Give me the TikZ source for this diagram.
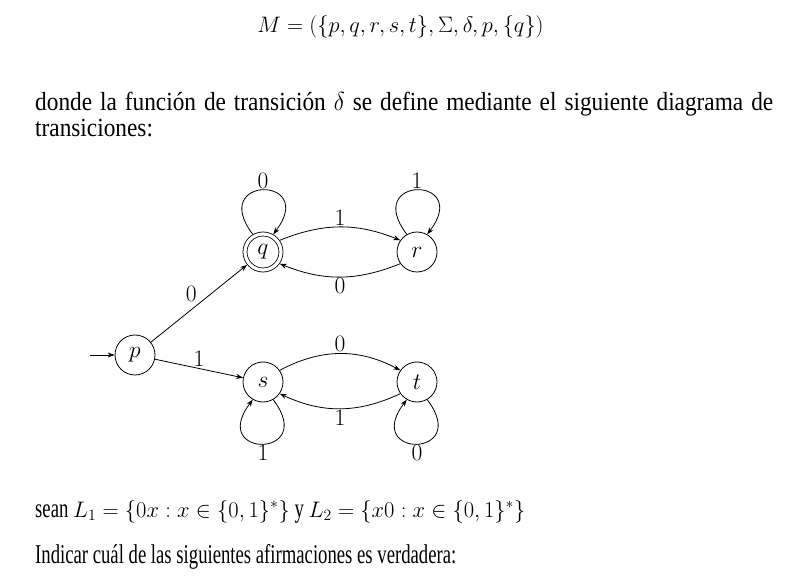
\RequirePackage{fix-cm}
\documentclass[tikz,border=0pt]{standalone}
\usepackage{fontspec}
\setmainfont{Liberation Serif}
\usetikzlibrary{arrows.meta}
\newcommand\vstr[2]{\scalebox{1}[#1]{#2}}
\begin{document}
\begin{tikzpicture}[x=1pt,y=-1pt,
  state/.style={circle,draw,line width=0.8pt,minimum size=40pt,inner sep=0pt,font=\fontsize{23.5}{27}\selectfont},
  acc/.style={circle,draw,line width=0.8pt,minimum size=36pt,inner sep=0pt,double,double distance=3.2pt,outer sep=2.4pt,font=\fontsize{23.5}{27}\selectfont},
  tr/.style={line width=0.8pt,-{Stealth[length=7pt,width=5pt]}},
  lbl/.style={font=\fontsize{23.5}{27}\selectfont,inner sep=1.5pt},
  ptxt/.style={font=\fontsize{23.3}{27}\selectfont,inner sep=0pt},
  btxt/.style={font=\fontsize{18.7}{22}\selectfont,inner sep=0pt}]
\useasboundingbox (0,0) rectangle (785,588);
\node[inner sep=0pt,font=\fontsize{22.4}{27}\selectfont,anchor=base] (title) at (400.5,33) {$M=(\{p,q,r,s,t\},\Sigma,\delta,p,\{q\})$};
\node[ptxt,anchor=base west] (line1) at (35,111)
  {\vstr{1.12}{\makebox[738pt][s]{donde la función de transición $\delta$ se define mediante el siguiente diagrama de}}};
\node[ptxt,anchor=base west] (line2) at (35,137) {\vstr{1.12}{transiciones:}};
\node[state] (p) at (135,355) {$p$};
\node[acc] (q) at (263,252) {$q$};
\node[state] (r) at (417,252) {$r$};
\node[state] (s) at (263,382) {$s$};
\node[state] (t) at (417,382) {$t$};
\coordinate (init) at (90,355);
\draw[tr] (init) -- (p);
\draw[tr] (p) -- node[lbl,above left,pos=0.5,inner sep=2pt] {$0$} (q);
\draw[tr] (p) -- node[lbl,above,pos=0.5,inner sep=2pt] {$1$} (s);
\draw[tr] (q.35) to[out=22,in=158] node[lbl,above] {$1$} (r.145);
\draw[tr] (r.215) to[out=202,in=-22] node[lbl,below] {$0$} (q.325);
\draw[tr] (s.35) to[out=28,in=152] node[lbl,above] {$0$} (t.145);
\draw[tr] (t.215) to[out=205,in=-25] node[lbl,below] {$1$} (s.325);
\draw[tr] (q.120) .. controls +(-45,-59) and +(45,-59) .. node[lbl,above] {$0$} (q.60);
\draw[tr] (r.120) .. controls +(-45,-59) and +(45,-59) .. node[lbl,above] {$1$} (r.60);
\draw[tr] (s.300) .. controls +(45,59) and +(-45,59) .. node[lbl,below] {$1$} (s.240);
\draw[tr] (t.300) .. controls +(45,59) and +(-45,59) .. node[lbl,below] {$0$} (t.240);
\node[btxt,anchor=base west] (sean) at (35,517)
  {\vstr{1.45}{sean} {\fontsize{22.5}{26}\selectfont$L_1=\{0x:x\in\{0,1\}^*\}$} \vstr{1.45}{y} {\fontsize{22.5}{26}\selectfont$L_2=\{x0:x\in\{0,1\}^*\}$}};
\node[btxt,anchor=base west] (ind) at (35,563) {\vstr{1.45}{Indicar cuál de las siguientes afirmaciones es verdadera:}};
\end{tikzpicture}
\end{document}
